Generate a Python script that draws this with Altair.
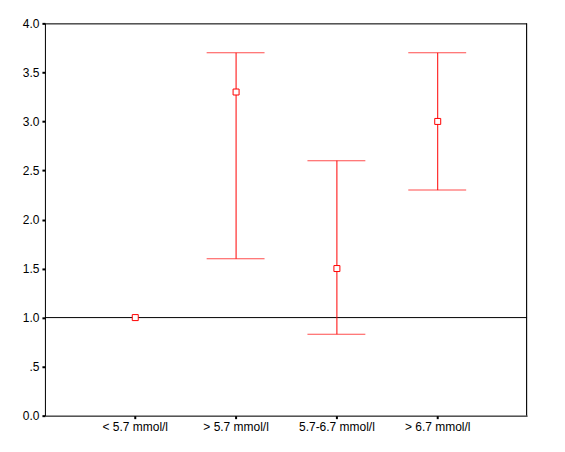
import altair as alt
import pandas as pd

categories = ["< 5.7 mmol/l", "> 5.7 mmol/l", "5.7-6.7 mmol/l", "> 6.7 mmol/l"]
estimates = [1.0, 3.3, 1.5, 3.0]
err_categories = ["> 5.7 mmol/l", "5.7-6.7 mmol/l", "> 6.7 mmol/l"]
lower = [1.6, 0.83, 2.3]
upper = [3.7, 2.6, 3.7]
ref_value = [1.0]
y_ticks = [0, 0.5, 1.0, 1.5, 2.0, 2.5, 3.0, 3.5, 4.0]

pts = pd.DataFrame({"group": categories, "value": estimates})
err = pd.DataFrame({"group": err_categories, "lo": lower, "hi": upper})
ref = pd.DataFrame({"y": ref_value})

RED = "#ff0000"
W, H = 483, 393
xenc = alt.X("group:N", sort=categories, title=None,
             scale=alt.Scale(type="point", padding=0.88, domain=categories, round=True),
             axis=alt.Axis(labelAngle=0, tickSize=3, tickWidth=2, tickColor="black",
                           domainColor="black", labelPadding=3, labelFontSize=12,
                           labelFont="Liberation Sans", labelColor="black", grid=False))
yscale = alt.Scale(domain=[0, 4], nice=False, zero=True)
yaxis = alt.Axis(values=y_ticks, tickSize=3, tickWidth=2, tickColor="black",
                 domainColor="black", labelPadding=3, labelFontSize=12,
                 labelFont="Liberation Sans", labelColor="black", grid=False,
                 labelExpr="datum.value == 0.5 ? '.5' : format(datum.value, '.1f')")

refline = alt.Chart(ref).mark_rule(color="black", strokeWidth=1).encode(
    y=alt.Y("y:Q", scale=yscale, axis=yaxis, title=None))

top_border = alt.Chart(ref).mark_rule(color="black", strokeWidth=1).encode(
    x=alt.value(0), x2=alt.value(W), y=alt.value(0.5))
right_border = alt.Chart(ref).mark_rule(color="black", strokeWidth=1).encode(
    x=alt.value(W - 0.5), y=alt.value(0), y2=alt.value(H))

vbars = alt.Chart(err).mark_rule(color=RED, strokeWidth=1, xOffset=0.5).encode(
    x=xenc, y=alt.Y("lo:Q", scale=yscale), y2="hi:Q")
capl = alt.Chart(err).mark_tick(color=RED, thickness=1, size=58, orient="horizontal").encode(
    x=xenc, y=alt.Y("lo:Q", scale=yscale))
caph = alt.Chart(err).mark_tick(color=RED, thickness=1, size=58, orient="horizontal").encode(
    x=xenc, y=alt.Y("hi:Q", scale=yscale))
points = alt.Chart(pts).mark_point(shape="square", filled=True, fill="white", stroke=RED,
                                   strokeWidth=1, size=36, opacity=1, xOffset=0.5).encode(
    x=xenc, y=alt.Y("value:Q", scale=yscale))

chart = alt.layer(refline, top_border, right_border, vbars, capl, caph, points).properties(
    width=W, height=H,
    autosize=alt.AutoSizeParams(type="none"),
    padding={"left": 37, "top": 15, "right": 30, "bottom": 30},
).configure_view(stroke=None).configure(background="white")

chart.save("out.html", embed_options={"renderer": "svg", "actions": False})
